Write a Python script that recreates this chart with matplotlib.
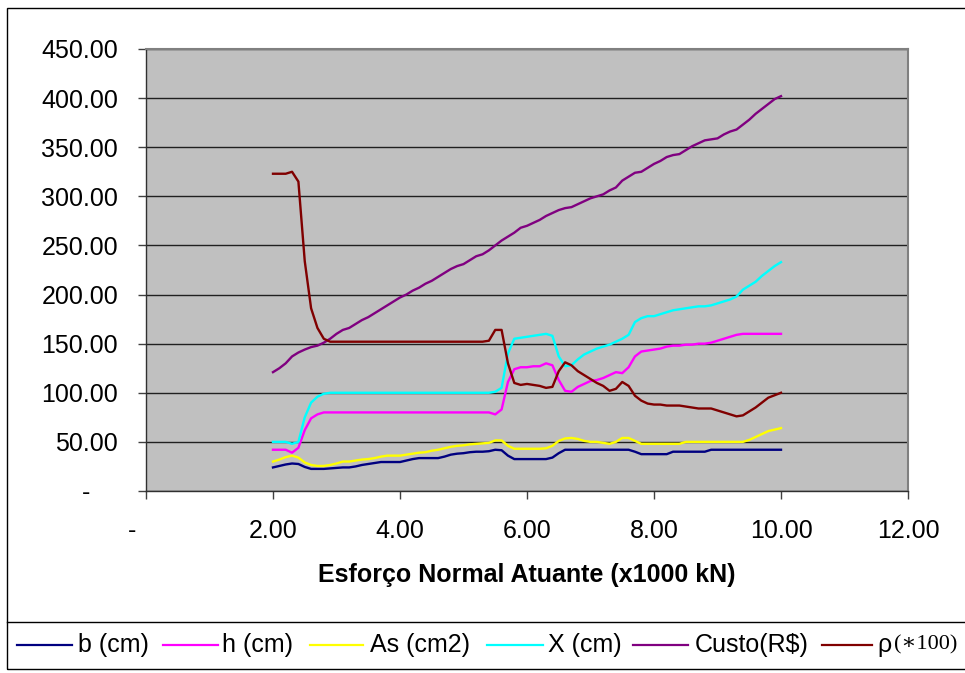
import matplotlib
matplotlib.use("Agg")
import matplotlib.pyplot as plt
from matplotlib.lines import Line2D
from matplotlib.patches import Rectangle

plt.rcParams['font.family'] = ['Liberation Sans', 'DejaVu Sans']

# Normal force applied (x1000 kN)
esforco = [2.0, 2.1, 2.2, 2.3, 2.4, 2.5, 2.6, 2.7, 2.8, 2.9,
           3.0, 3.1, 3.2, 3.3, 3.4, 3.5, 3.6, 3.7, 3.8, 3.9,
           4.0, 4.1, 4.2, 4.3, 4.4, 4.5, 4.6, 4.7, 4.8, 4.9,
           5.0, 5.1, 5.2, 5.3, 5.4, 5.5, 5.6, 5.7, 5.8, 5.9,
           6.0, 6.1, 6.2, 6.3, 6.4, 6.5, 6.6, 6.7, 6.8, 6.9,
           7.0, 7.1, 7.2, 7.3, 7.4, 7.5, 7.6, 7.7, 7.8, 7.9,
           8.0, 8.1, 8.2, 8.3, 8.4, 8.5, 8.6, 8.7, 8.8, 8.9,
           9.0, 9.1, 9.2, 9.3, 9.4, 9.5, 9.6, 9.7, 9.8, 9.9,
           10.0]

b_cm = [24, 25.5, 27, 28, 27.5, 24.5, 22.5, 22.5, 22.5, 23,
        23.5, 24, 24, 25, 26.5, 27.5, 28.5, 29.5, 29.5, 29.5,
        29.5, 31, 32.5, 33.5, 33.5, 33.5, 33.5, 35, 37, 38,
        38.5, 39.5, 40, 40, 40.5, 42, 41.5, 36, 32.5, 32.5,
        32.5, 32.5, 32.5, 32.5, 34, 38.5, 42, 42, 42, 42,
        42, 42, 42, 42, 42, 42, 42, 40, 37.5, 37.5,
        37.5, 37.5, 37.5, 40, 40, 40, 40, 40, 40, 42,
        42, 42, 42, 42, 42, 42, 42, 42, 42, 42,
        42]

h_cm = [42, 42, 42, 39, 44, 62, 74, 78, 80, 80,
        80, 80, 80, 80, 80, 80, 80, 80, 80, 80,
        80, 80, 80, 80, 80, 80, 80, 80, 80, 80,
        80, 80, 80, 80, 80, 78, 83, 111, 124, 126,
        126, 127, 127, 130, 128, 113, 102, 101, 106, 109,
        112, 113, 115, 118, 121, 120, 126, 137, 142, 143,
        144, 145, 147, 148, 148, 149, 149, 150, 150, 151,
        153, 155, 157, 159, 160, 160, 160, 160, 160, 160,
        160]

as_cm2 = [30, 32, 34.5, 36, 34, 29, 26.5, 25.5, 25.5, 26.5,
          28, 30, 30, 31, 32, 32.5, 33.5, 35, 36, 36,
          36, 37, 38, 39, 39.5, 41, 42, 43.5, 45, 46,
          46.5, 47.5, 48, 48.5, 49, 51.5, 51.5, 46, 43, 43,
          43, 43, 43, 43.5, 46, 51, 53.5, 54, 53, 51,
          50, 50, 49, 48, 50, 54, 54, 51, 48, 48,
          48, 48, 48, 48, 48, 50, 50, 50, 50, 50,
          50, 50, 50, 50, 50, 52, 55, 58, 61, 62.5,
          64]

x_cm = [50, 50, 50, 48, 50, 75, 90, 96, 99, 100,
        100, 100, 100, 100, 100, 100, 100, 100, 100, 100,
        100, 100, 100, 100, 100, 100, 100, 100, 100, 100,
        100, 100, 100, 100, 100, 101, 105, 140, 155, 156,
        157, 158, 159, 160, 158, 137, 127, 128, 134, 139,
        142, 145, 147, 149, 152, 155, 159, 172, 176, 178,
        178, 180, 182, 184, 185, 186, 187, 188, 188, 189,
        191, 193, 195, 198, 205, 209, 213, 219, 224, 229,
        233]

custo = [121, 125, 130, 137, 141, 144, 146.5, 148, 151, 155,
         160, 164, 166, 170, 174, 177, 181, 185, 189, 193,
         197, 200, 204, 207, 211, 214, 218, 222, 226, 229,
         231, 235, 239, 241, 245, 250, 255, 259, 263, 268,
         270, 273, 276, 280, 283, 286, 288, 289, 292, 295,
         298, 300, 302, 306, 309, 316, 320, 324, 325, 329,
         333, 336, 340, 342, 343, 347, 351, 354, 357, 358,
         359, 363, 366, 368, 373, 378, 384, 389, 394, 399,
         402]

rho = [323, 323, 323, 325, 315, 234, 186, 166, 155, 152,
       152, 152, 152, 152, 152, 152, 152, 152, 152, 152,
       152, 152, 152, 152, 152, 152, 152, 152, 152, 152,
       152, 152, 152, 152, 153, 164, 164, 130, 110, 108,
       109, 108, 107, 105, 106, 122, 131, 128, 122, 118,
       114, 110, 107, 102, 104, 111, 107, 97, 92, 89,
       88, 88, 87, 87, 87, 86, 85, 84, 84, 84,
       82, 80, 78, 76, 77, 81, 85, 90, 95, 97.5,
       100]

x_ticks = [0, 2, 4, 6, 8, 10, 12]
x_ticklabels = ["-    ", "2.00", "4.00", "6.00", "8.00", "10.00", "12.00"]
y_ticks = [0, 50, 100, 150, 200, 250, 300, 350, 400, 450]
y_ticklabels = ["-    ", "50.00", "100.00", "150.00", "200.00", "250.00",
                "300.00", "350.00", "400.00", "450.00"]

series = [
    ("b (cm)", b_cm, "#000080"),
    ("h (cm)", h_cm, "#FF00FF"),
    ("As (cm2)", as_cm2, "#FFFF00"),
    ("X (cm)", x_cm, "#00FFFF"),
    ("Custo(R$)", custo, "#800080"),
    ("\u03c1", rho, "#800000"),
]

W, H = 965, 673


def fx(px):
    return px / W


def fy(py):
    return 1 - py / H


fig = plt.figure(figsize=(W / 100, H / 100), dpi=100)
fig.patch.set_facecolor("white")

# outer chart frame and legend box
fig.add_artist(Rectangle((fx(7), fy(669)), fx(975) - fx(7), fy(8) - fy(669),
                         transform=fig.transFigure, fill=False,
                         edgecolor="black", lw=1.0))
fig.add_artist(Line2D([fx(7), fx(975)], [fy(622), fy(622)],
                      transform=fig.transFigure, color="black", lw=1.0))

ax = fig.add_axes([fx(146), fy(491), fx(908) - fx(146), fy(49) - fy(491)])
ax.set_facecolor("#C0C0C0")

for label, vals, color in series:
    ax.plot(esforco, vals, color=color, lw=1.7, solid_joinstyle="round")

ax.set_xlim(0, 12)
ax.set_ylim(0, 450)
ax.set_xticks(x_ticks)
ax.set_xticklabels(x_ticklabels)
ax.set_yticks(y_ticks)
ax.set_yticklabels(y_ticklabels)
ax.yaxis.grid(True, color="#202020", lw=1.0)
ax.set_axisbelow(True)

ax.tick_params(axis="both", direction="out", length=6, width=1.0,
               color="#404040", labelsize=18, labelcolor="black")
ax.tick_params(axis="y", pad=14)
ax.tick_params(axis="x", pad=14)

for side in ("left", "bottom"):
    ax.spines[side].set_color("#303030")
    ax.spines[side].set_linewidth(1.0)
for side in ("top", "right"):
    ax.spines[side].set_color("#808080")
    ax.spines[side].set_linewidth(1.5)

fig.text(fx(527), fy(575), "Esfor\u00e7o Normal Atuante (x1000 kN)",
         ha="center", va="center", fontsize=18, fontweight="bold")

# legend row
legend_pos = [(17, 72, 78), (163, 218, 222), (310, 363, 370),
              (487, 543, 548), (633, 688, 695), (822, 872, 877)]
ly = fy(645)
for (x1, x2, xt), (label, vals, color) in zip(legend_pos, series):
    fig.add_artist(Line2D([fx(x1), fx(x2)], [ly, ly],
                          transform=fig.transFigure, color=color, lw=1.6))
    fig.text(fx(xt), ly, label, ha="left", va="center", fontsize=18)
fig.text(fx(894), ly, "(\u2217100)", ha="left", va="center", fontsize=16,
         family=["Liberation Serif", "DejaVu Serif"])

fig.savefig("out.png", dpi=100)
